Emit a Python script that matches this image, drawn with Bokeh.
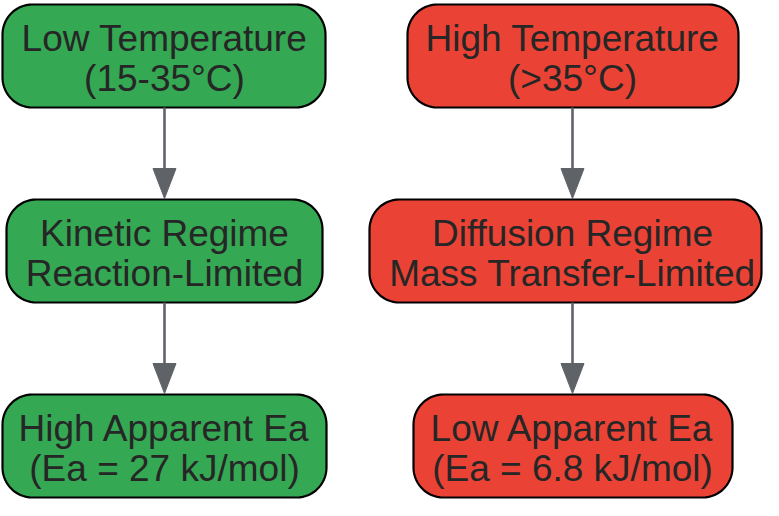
import numpy as np
from bokeh.plotting import figure
from bokeh.models import Range1d
from bokeh.core.properties import value
from bokeh.embed import file_html
from bokeh.resources import INLINE

# ---- diagram content ----
line1 = ["Low Temperature", "High Temperature",
         "Kinetic Regime", "Diffusion Regime",
         "High Apparent Ea", "Low Apparent Ea"]
line2 = ["(15-35°C)", "(>35°C)",
         "Reaction-Limited", "Mass Transfer-Limited",
         "(Ea = 27 kJ/mol)", "(Ea = 6.8 kJ/mol)"]
fills = ["#34a853", "#ea4335", "#34a853", "#ea4335", "#34a853", "#ea4335"]
edges = [(0, 2), (2, 4), (1, 3), (3, 5)]

# ---- layout (pixel coordinates inside the figure) ----
col_x = [164, 572, 164, 572, 164, 572]
box_l = [2, 407, 6, 369, 2, 413]
box_r = [325, 738, 322, 761, 326, 732]
box_t = [4, 4, 199, 199, 394, 394]
box_h = 103
radius = 30
TEXT = "#262626"
EDGE = "#5f6368"

W, H = 763, 500
p = figure(width=W, height=H, output_backend="svg", toolbar_location=None,
           x_range=Range1d(0, W), y_range=Range1d(H, 0),
           min_border=0)
p.axis.visible = False
p.grid.visible = False
p.outline_line_color = None
p.background_fill_color = "white"
p.border_fill_color = "white"


def rounded(l, r, t, b, rad):
    xs, ys = [], []
    corners = [(r - rad, t + rad, -np.pi / 2, 0),
               (r - rad, b - rad, 0, np.pi / 2),
               (l + rad, b - rad, np.pi / 2, np.pi),
               (l + rad, t + rad, np.pi, 1.5 * np.pi)]
    for cx, cy, a0, a1 in corners:
        a = np.linspace(a0, a1, 16)
        xs.extend(cx + rad * np.cos(a))
        ys.extend(cy + rad * np.sin(a))
    return xs, ys


bx, by = [], []
for i in range(len(line1)):
    xs, ys = rounded(box_l[i], box_r[i], box_t[i], box_t[i] + box_h, radius)
    bx.append(xs)
    by.append(ys)
p.patches(bx, by, fill_color=fills, line_color="black", line_width=2.2)

# arrows
head_len, head_w = 30, 23
sx, sy0, sy1, hx, hy = [], [], [], [], []
for a, b in edges:
    x = col_x[a]
    y0 = box_t[a] + box_h
    y1 = box_t[b] - 1
    sx.append(x)
    sy0.append(y0)
    sy1.append(y1 - head_len + 2)
    hx.append([x - head_w / 2, x + head_w / 2, x])
    hy.append([y1 - head_len, y1 - head_len, y1])
p.segment(x0=sx, y0=sy0, x1=sx, y1=sy1, line_color=EDGE, line_width=2.6)
p.patches(hx, hy, fill_color=EDGE, line_color=EDGE, line_width=1)

# labels
y1s = [t + 34 for t in box_t]
y2s = [t + 74 for t in box_t]
for ys, labels in ((y1s, line1), (y2s, line2)):
    p.text(x=col_x, y=ys, text=labels, text_align="center",
           text_baseline="middle", text_font=value("Liberation Sans"),
           text_font_size="37px", text_color=TEXT)

open("out.html", "w").write(file_html(p, INLINE))
